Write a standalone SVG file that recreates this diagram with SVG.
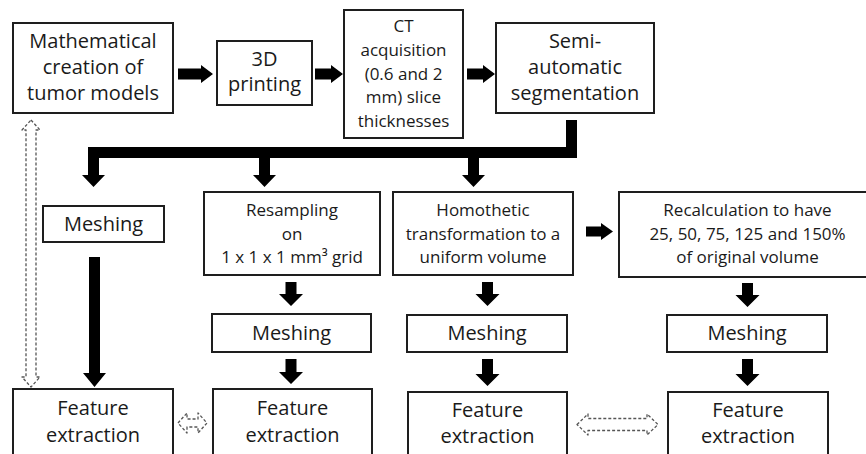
<svg xmlns="http://www.w3.org/2000/svg" width="866" height="454" viewBox="0 0 866 454">
  <style>
    .box { fill: #ffffff; stroke: #1e1e1e; stroke-width: 2; }
    .lg { font-family: "Open Sans", "Noto Sans", sans-serif; font-size: 20px; fill: #1a1a1a; text-anchor: middle; }
    .sm { font-family: "Open Sans", "Noto Sans", sans-serif; font-size: 17px; fill: #1a1a1a; text-anchor: middle; }
    .solid { fill: #000000; }
    .dashed { fill: #ffffff; stroke: #555555; stroke-width: 1.3; stroke-dasharray: 3 2; stroke-linejoin: round; }
  </style>
  <rect width="866" height="454" fill="#ffffff"/>

  <!-- top row -->
  <g id="math-models">
    <rect class="box" x="13" y="23" width="160" height="90"/>
    <text class="lg" x="93" y="48">Mathematical</text>
    <text class="lg" x="93" y="74">creation of</text>
    <text class="lg" x="93" y="100">tumor models</text>
  </g>
  <g id="printing">
    <rect class="box" x="217" y="41" width="95" height="64"/>
    <text class="lg" x="264.5" y="66">3D</text>
    <text class="lg" x="264.5" y="91">printing</text>
  </g>
  <g id="ct">
    <rect class="box" x="344" y="10" width="119" height="128"/>
    <text class="sm" x="403.5" y="32">CT</text>
    <text class="sm" x="403.5" y="56">acquisition</text>
    <text class="sm" x="403.5" y="80">(0.6 and 2</text>
    <text class="sm" x="403.5" y="103">mm) slice</text>
    <text class="sm" x="403.5" y="127">thicknesses</text>
  </g>
  <g id="segmentation">
    <rect class="box" x="496" y="23" width="158" height="90"/>
    <text class="lg" x="575" y="48">Semi-</text>
    <text class="lg" x="575" y="74">automatic</text>
    <text class="lg" x="575" y="100">segmentation</text>
  </g>

  <!-- second row -->
  <g id="meshing-1">
    <rect class="box" x="43" y="206" width="121" height="36"/>
    <text class="lg" x="103.5" y="231">Meshing</text>
  </g>
  <g id="resampling">
    <rect class="box" x="204" y="192" width="176" height="83"/>
    <text class="sm" x="292" y="216">Resampling</text>
    <text class="sm" x="292" y="240">on</text>
    <text class="sm" x="292" y="263">1 x 1 x 1 mm³ grid</text>
  </g>
  <g id="homothetic">
    <rect class="box" x="393" y="192" width="180" height="83"/>
    <text class="sm" x="483" y="216">Homothetic</text>
    <text class="sm" x="483" y="240">transformation to a</text>
    <text class="sm" x="483" y="263">uniform volume</text>
  </g>
  <g id="recalculation">
    <rect class="box" x="619" y="192" width="257" height="85"/>
    <text class="sm" x="747.5" y="216">Recalculation to have</text>
    <text class="sm" x="747.5" y="240">25, 50, 75, 125 and 150%</text>
    <text class="sm" x="747.5" y="263">of original volume</text>
  </g>

  <!-- third row -->
  <g id="meshing-2">
    <rect class="box" x="212" y="314" width="159" height="38"/>
    <text class="lg" x="291.5" y="340">Meshing</text>
  </g>
  <g id="meshing-3">
    <rect class="box" x="407" y="315" width="160" height="37"/>
    <text class="lg" x="487" y="340">Meshing</text>
  </g>
  <g id="meshing-4">
    <rect class="box" x="667" y="315" width="160" height="37"/>
    <text class="lg" x="747" y="340">Meshing</text>
  </g>

  <!-- bottom row -->
  <g id="features-1">
    <rect class="box" x="13" y="389" width="160" height="66"/>
    <text class="lg" x="93" y="415">Feature</text>
    <text class="lg" x="93" y="442">extraction</text>
  </g>
  <g id="features-2">
    <rect class="box" x="213" y="389" width="159" height="66"/>
    <text class="lg" x="292.5" y="415">Feature</text>
    <text class="lg" x="292.5" y="442">extraction</text>
  </g>
  <g id="features-3">
    <rect class="box" x="408" y="392" width="159" height="63"/>
    <text class="lg" x="487.5" y="417">Feature</text>
    <text class="lg" x="487.5" y="443">extraction</text>
  </g>
  <g id="features-4">
    <rect class="box" x="668" y="392" width="160" height="63"/>
    <text class="lg" x="748" y="417">Feature</text>
    <text class="lg" x="748" y="443">extraction</text>
  </g>

  <g id="connectors">
    <!-- top row block arrows -->
    <path class="solid" d="M178,68.5 H201 V65 L213,74 L201,83 V79.5 H178 Z"/>
    <path class="solid" d="M315,68.5 H331 V65 L343,74 L331,83 V79.5 H315 Z"/>
    <path class="solid" d="M467,68.5 H483 V65 L495,74 L483,83 V79.5 H467 Z"/>
    <!-- distribution bar from segmentation -->
    <path class="solid" d="M88,147 H566 V120 H577 V158 H479 V175 H485 L473.5,187 L462,175 H468 V158 H270 V175 H276 L264.5,187 L253,175 H259 V158 H99 V175 H105 L93.5,187 L82,175 H88 Z"/>
    <!-- meshing to feature extraction, first column -->
    <path class="solid" d="M89,257 H100 V373 H106 L94.5,387 L83,373 H89 Z"/>
    <!-- homothetic to recalculation -->
    <path class="solid" d="M586,226.5 H601 V223 L613,231.5 L601,240 V236.5 H586 Z"/>
    <!-- small downward arrows -->
    <path class="solid" d="M285.5,282 H296.5 V294 H303 L291,306 L279,294 H285.5 Z"/>
    <path class="solid" d="M285.5,359 H296.5 V372 H303 L291,384 L279,372 H285.5 Z"/>
    <path class="solid" d="M482,282 H493 V294 H499.5 L487.5,306 L475.5,294 H482 Z"/>
    <path class="solid" d="M482,359 H493 V374 H499.5 L487.5,386 L475.5,374 H482 Z"/>
    <path class="solid" d="M742,283 H753 V295 H759.5 L747.5,307 L735.5,295 H742 Z"/>
    <path class="solid" d="M742,359 H753 V374 H759.5 L747.5,386 L735.5,374 H742 Z"/>
    <!-- dashed comparison arrows -->
    <path class="dashed" d="M31,120 L40,130 H36 V377 H40 L31,387 L22,377 H26 V130 H22 Z"/>
    <path class="dashed" d="M178,423 L187,413 V419 H198 V413 L207,423 L198,433 V427 H187 V433 Z"/>
    <path class="dashed" d="M577,424.5 L588,414 V418.5 H647 V414 L658,424.5 L647,435 V430.5 H588 V435 Z"/>
  </g>
</svg>
